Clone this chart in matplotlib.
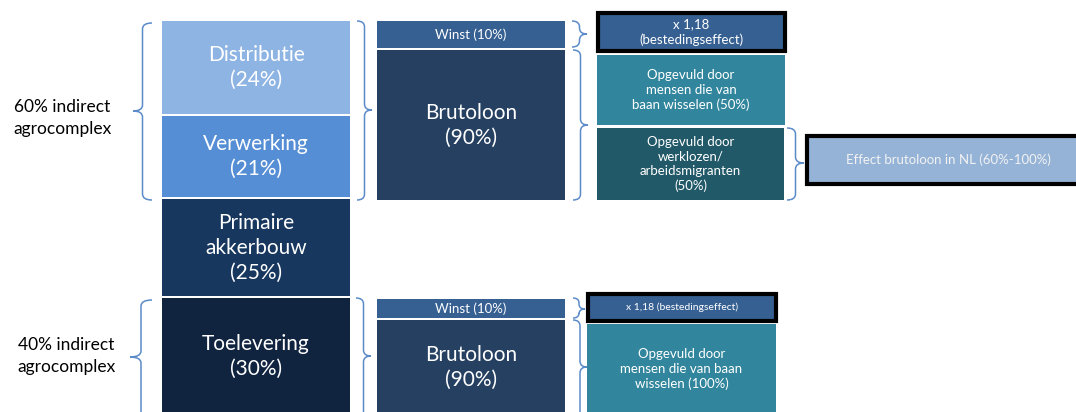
import matplotlib.pyplot as plt
from matplotlib.patches import Rectangle, PathPatch
from matplotlib.path import Path
import numpy as np

plt.rcParams['font.family'] = ['Lato', 'DejaVu Sans']

# left column: sectors and their share of the chain
sectors = ['Distributie', 'Verwerking', 'Primaire\nakkerbouw', 'Toelevering']
sector_share = [24, 21, 25, 30]
sector_colors = ['#8eb4e3', '#558ed5', '#17375e', '#10243f']

group_labels = ['60% indirect\nagrocomplex', '40% indirect\nagrocomplex']

# middle column: split of added value
split_labels = ['Winst (10%)', 'Brutoloon\n(90%)']
split_colors = ['#366092', '#254061']

# right column
multiplier_labels = ['x 1,18\n(bestedingseffect)', 'x 1,18 (bestedingseffect)']
fill_upper = ['Opgevuld door\nmensen die van\nbaan wisselen (50%)',
              'Opgevuld door\nwerklozen/\narbeidsmigranten\n(50%)']
fill_lower = ['Opgevuld door\nmensen die van baan\nwisselen (100%)']
fill_colors = ['#31859c', '#215968']
effect_label = 'Effect brutoloon in NL (60%-100%)'

BRACE = '#5b8bc9'

fig = plt.figure(figsize=(10.76, 4.12), dpi=100)
ax = fig.add_axes([0, 0, 1, 1])
ax.set_xlim(0, 1076)
ax.set_ylim(412, 0)
ax.axis('off')


def box(x0, y0, x1, y1, color, text, size, border=False, tcolor='white',
        ls=1.25):
    ax.add_patch(Rectangle((x0, y0), x1 - x0, y1 - y0, facecolor=color,
                           edgecolor='black' if border else 'none',
                           linewidth=3 if border else 0, zorder=2))
    ax.text((x0 + x1) / 2, (y0 + y1) / 2, text, ha='center', va='center',
            color=tcolor, fontsize=size, linespacing=ls, zorder=3)


def brace(x_tip, x_end, top, bottom, tip_y):
    xm = (x_tip + x_end) / 2
    r = min(6, (bottom - top) / 4)
    verts = [(x_end, top), (xm, top), (xm, top + r),
             (xm, tip_y - r), (xm, tip_y), (x_tip, tip_y),
             (xm, tip_y), (xm, tip_y + r),
             (xm, bottom - r), (xm, bottom), (x_end, bottom)]
    codes = [Path.MOVETO, Path.CURVE3, Path.CURVE3,
             Path.LINETO, Path.CURVE3, Path.CURVE3,
             Path.CURVE3, Path.CURVE3,
             Path.LINETO, Path.CURVE3, Path.CURVE3]
    ax.add_patch(PathPatch(Path(verts, codes), facecolor='none',
                           edgecolor=BRACE, linewidth=1.1, zorder=1))


# left stacked column
px_per_pct = 3.96
bottoms = 21 + px_per_pct * np.concatenate([[0], np.cumsum(sector_share)[:-1]])
heights = px_per_pct * np.array(sector_share) - 2
ax.bar(256, heights, bottom=bottoms, width=188, color=sector_colors, zorder=2)
for name, share, b, h in zip(sectors, sector_share, bottoms, heights):
    ax.text(256, b + h / 2, f'{name}\n({share}%)', ha='center', va='center',
            color='white', fontsize=15, linespacing=1.3, zorder=3)

# group labels and braces
ax.text(62, 118, group_labels[0], ha='center', va='center', fontsize=12.5,
        linespacing=1.4)
ax.text(66, 356, group_labels[1], ha='center', va='center', fontsize=12.5,
        linespacing=1.4)
brace(133, 152, 23, 200, 111)
brace(130, 152, 300, 430, 357)
brace(372, 357, 21, 200, 110)
brace(371, 356, 298, 430, 356)

# middle column, upper group
box(377, 21, 565, 48, split_colors[0], split_labels[0], 9.5)
box(377, 50, 565, 200, split_colors[1], split_labels[1], 15, ls=1.3)
# middle column, lower group
box(377, 299, 565, 318, split_colors[0], split_labels[0], 9.5)
box(377, 320, 565, 414, split_colors[1], split_labels[1], 15, ls=1.3)

brace(587, 572, 21, 47, 34)
brace(588, 573, 50, 200, 125)
brace(585, 573, 298, 318, 309)
brace(587, 573, 320, 430, 367)

# right column, upper group
box(598, 13, 785, 51, split_colors[0], multiplier_labels[0], 9.5, border=True)
box(597, 55, 785, 125, fill_colors[0], fill_upper[0], 9.5)
box(597, 128, 784, 200, fill_colors[1], fill_upper[1], 9.5)
brace(804, 787, 128, 200, 163)
box(807, 136, 1090, 184, '#95b3d7', effect_label, 9.5, border=True,
    tcolor='#f2f2f2')

# right column, lower group
box(588, 294, 776, 321, split_colors[0], multiplier_labels[1], 7.5, border=True)
box(587, 324, 776, 414, fill_colors[0], fill_lower[0], 9.5)

fig.savefig('out.png', dpi=100)
